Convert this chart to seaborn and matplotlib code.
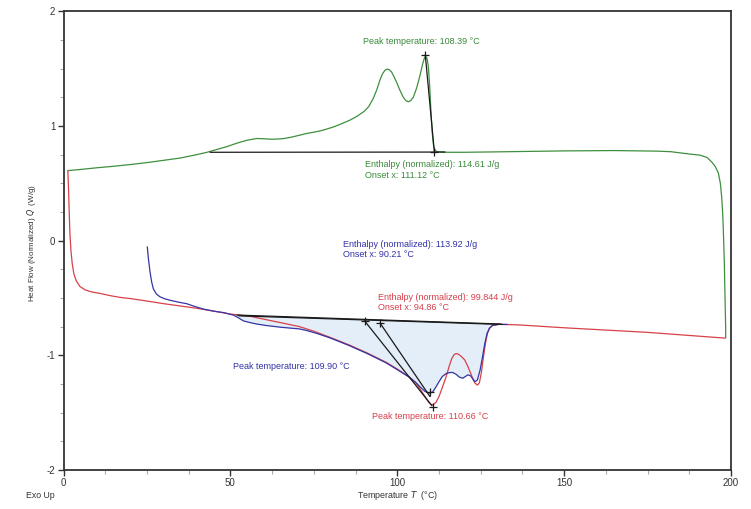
import numpy as np
import pandas as pd
import matplotlib
matplotlib.use("Agg")
import matplotlib.pyplot as plt
import seaborn as sns
from matplotlib.ticker import MultipleLocator

# ---------------- data ----------------
green_T = [1.3, 5, 10, 15, 20, 25, 30, 35, 40, 43, 46, 49, 52, 55, 57.9, 60, 62, 64, 66,
           68, 70.9, 73, 75.9, 78, 80.8, 83, 85.8, 88, 90, 91.5, 92.8, 93.8, 94.8, 95.6,
           96.3, 96.9, 97.6, 98.3, 99.0, 99.8, 100.8, 101.8, 102.6, 103.3, 104.0, 104.8,
           105.8, 106.8, 107.6, 108.1, 108.5, 108.9, 109.3, 109.7, 110.1, 110.5, 110.9,
           111.4, 112, 115, 120, 130.8, 140, 150, 165, 178, 182, 184.7, 187.5, 190.7,
           192.8, 194.2, 195.3, 196.2, 196.8, 197.2, 197.5, 197.7, 198.0, 198.2, 198.4, 198.4]
green_Q = [0.61, 0.62, 0.635, 0.648, 0.663, 0.68, 0.70, 0.72, 0.75, 0.77, 0.795, 0.82,
           0.85, 0.875, 0.89, 0.888, 0.884, 0.885, 0.89, 0.90, 0.92, 0.935, 0.95, 0.965,
           0.99, 1.015, 1.05, 1.085, 1.125, 1.17, 1.24, 1.31, 1.40, 1.455, 1.485, 1.495,
           1.49, 1.47, 1.43, 1.38, 1.31, 1.25, 1.22, 1.21, 1.22, 1.25, 1.33, 1.44, 1.54,
           1.59, 1.605, 1.59, 1.52, 1.35, 1.12, 0.93, 0.82, 0.785, 0.775, 0.77, 0.77,
           0.774, 0.778, 0.782, 0.785, 0.78, 0.775, 0.765, 0.755, 0.745, 0.725, 0.686,
           0.645, 0.59, 0.50, 0.38, 0.24, 0.09, -0.20, -0.49, -0.77, -0.85]

red_T = [1.3, 1.5, 1.7, 1.9, 2.2, 2.6, 3.1, 3.8, 4.9, 6.5, 8.5, 10.9, 14, 16.9, 20, 25,
         30, 35, 39.9, 45, 50, 55.9, 60, 65, 70.7, 75, 80, 85.6, 91, 96.6, 100, 103.6,
         105.5, 107, 108.3, 109.4, 110.2, 110.8, 111.6, 112.5, 113.5, 114.6, 115.5, 116.3,
         117.0, 117.6, 118.3, 119.2, 120.2, 121.2, 122.3, 123.2, 124, 124.6, 125.2, 125.8,
         126.4, 127, 127.6, 128.5, 130.4, 136.5, 150, 175, 198.2]
red_Q = [0.61, 0.45, 0.25, 0.07, -0.08, -0.20, -0.29, -0.35, -0.40, -0.43, -0.448, -0.46,
         -0.48, -0.495, -0.505, -0.527, -0.55, -0.57, -0.59, -0.615, -0.64, -0.66, -0.685,
         -0.715, -0.75, -0.79, -0.845, -0.91, -0.98, -1.06, -1.12, -1.19, -1.24, -1.30,
         -1.36, -1.41, -1.43, -1.43, -1.41, -1.36, -1.28, -1.19, -1.10, -1.03, -0.995,
         -0.985, -0.99, -1.01, -1.04, -1.10, -1.18, -1.24, -1.26, -1.24, -1.15, -1.02,
         -0.90, -0.81, -0.765, -0.74, -0.73, -0.735, -0.76, -0.80, -0.85]

blue_T = [25.1, 25.4, 25.9, 26.4, 26.9, 27.8, 28.9, 30.3, 31.9, 34.5, 36.9, 38.9, 41.9,
          45, 48, 50.9, 52.5, 53.9, 55.9, 58, 60.7, 65, 70.7, 73, 76, 80, 85.6, 91, 96.6,
          100, 103.6, 105.5, 107, 108.3, 109.6, 110.6, 111.5, 112.5, 113.5, 114.6, 115.7,
          116.6, 117.6, 118.6, 119.6, 120.4, 121.2, 122, 122.7, 123.3, 124, 124.8, 125.5,
          126.2, 126.9, 127.6, 128.5, 130.4, 133]
blue_Q = [-0.054, -0.15, -0.27, -0.36, -0.42, -0.465, -0.49, -0.507, -0.52, -0.537, -0.55,
          -0.57, -0.597, -0.615, -0.628, -0.65, -0.675, -0.70, -0.715, -0.728, -0.74,
          -0.755, -0.77, -0.785, -0.81, -0.85, -0.915, -0.985, -1.065, -1.125, -1.19,
          -1.235, -1.28, -1.315, -1.33, -1.32, -1.28, -1.23, -1.185, -1.16, -1.15, -1.15,
          -1.165, -1.19, -1.20, -1.185, -1.17, -1.18, -1.21, -1.23, -1.215, -1.13, -1.02,
          -0.90, -0.81, -0.765, -0.74, -0.73, -0.731]

# integration baselines and tangents
green_base_T = [43.9, 114.3]
green_base_Q = [0.77, 0.772]
green_tan_T = [108.39, 111.12]
green_tan_Q = [1.62, 0.77]
blue_base_T = [51.9, 130.8]
blue_base_Q = [-0.649, -0.727]
red_base_T = [52.5, 131.5]
red_base_Q = [-0.656, -0.731]
blue_tan_T = [90.21, 110.4]
blue_tan_Q = [-0.70, -1.44]
red_tan_T = [94.86, 109.8]
red_tan_Q = [-0.72, -1.36]

# marker points (onset / peak)
mark_T = [108.39, 111.12, 90.21, 94.86, 109.90, 110.66]
mark_Q = [1.62, 0.77, -0.70, -0.72, -1.32, -1.45]

# annotations
ann_x = [89.7, 90.2, 90.2, 83.8, 83.8, 94.1, 94.1, 50.9, 92.3]
ann_y = [1.738, 0.666, 0.57, -0.03, -0.12, -0.495, -0.58, -1.10, -1.53]
ann_txt = ["Peak temperature: 108.39 °C",
           "Enthalpy (normalized): 114.61 J/g", "Onset x: 111.12 °C",
           "Enthalpy (normalized): 113.92 J/g", "Onset x: 90.21 °C",
           "Enthalpy (normalized): 99.844 J/g", "Onset x: 94.86 °C",
           "Peak temperature: 109.90 °C", "Peak temperature: 110.66 °C"]
ann_col = ["g", "g", "g", "b", "b", "r", "r", "b", "r"]

x_ticks = [0, 50, 100, 150, 200]
y_ticks = [-2, -1, 0, 1, 2]

# ---------------- styling ----------------
sns.set_theme(style="white")
plt.rcParams["font.family"] = ["Liberation Sans", "DejaVu Sans"]
plt.rcParams["axes.unicode_minus"] = False

GREEN = "#3f8f3f"
RED = "#d8414a"
BLUE = "#3535a5"
TXT = {"g": "#3a8a3a", "r": "#d5404a", "b": "#3232a8"}

fig = plt.figure(figsize=(7.51, 5.09), dpi=100)
ax = fig.add_axes([0.0846, 0.0766, 0.9734 - 0.0846, 0.978 - 0.0766])

# fill between blue baseline and blue curve
bt = np.array(blue_T)
bq = np.array(blue_Q)
sel = (bt >= blue_base_T[0]) & (bt <= blue_base_T[1])
fx = np.concatenate([[blue_base_T[0]], bt[sel], [blue_base_T[1]]])
fy = np.concatenate([[blue_base_Q[0]], bq[sel], [blue_base_Q[1]]])
base = np.interp(fx, blue_base_T, blue_base_Q)
ax.fill_between(fx, base, fy, color="#e3eef9", lw=0, zorder=1)

lw = 0.9
df_g = pd.DataFrame({"T": green_T, "Q": green_Q})
df_r = pd.DataFrame({"T": red_T, "Q": red_Q})
df_b = pd.DataFrame({"T": blue_T, "Q": blue_Q})
sns.lineplot(data=df_g, x="T", y="Q", sort=False, estimator=None, color=GREEN, lw=lw, ax=ax, zorder=3)
sns.lineplot(data=df_r, x="T", y="Q", sort=False, estimator=None, color=RED, lw=lw, ax=ax, zorder=3)
sns.lineplot(data=df_b, x="T", y="Q", sort=False, estimator=None, color=BLUE, lw=lw, ax=ax, zorder=4)

for xs, ys in [(green_base_T, green_base_Q), (green_tan_T, green_tan_Q),
               (blue_base_T, blue_base_Q), (red_base_T, red_base_Q),
               (blue_tan_T, blue_tan_Q), (red_tan_T, red_tan_Q)]:
    ax.plot(xs, ys, color="#1a1a1a", lw=0.9, zorder=5)

ax.scatter(mark_T, mark_Q, marker="+", s=40, color="#1a1a1a", lw=0.9, zorder=6)

for x, y, t, c in zip(ann_x, ann_y, ann_txt, ann_col):
    ax.text(x, y, t, color=TXT[c], fontsize=6.5, ha="left", va="center", zorder=7)

ax.set_xlim(0, 200)
ax.set_ylim(-2, 2)
ax.set_xticks(x_ticks)
ax.set_yticks(y_ticks)
ax.set_xticklabels([str(v) for v in x_ticks])
ax.set_yticklabels([str(v) for v in y_ticks])
ax.xaxis.set_minor_locator(MultipleLocator(12.5))
ax.yaxis.set_minor_locator(MultipleLocator(0.25))
ax.tick_params(axis="both", which="major", direction="out", length=4, width=1,
               color="#333333", labelsize=7, labelcolor="#333333", pad=2,
               bottom=True, left=True)
ax.tick_params(axis="both", which="minor", direction="out", length=3, width=0.8,
               color="#aaaaaa", bottom=True, left=True)
for s in ax.spines.values():
    s.set_color("#333333")
    s.set_linewidth(1.3)
    s.set_visible(True)

ax.set_xlabel("")
ax.set_ylabel("")
fig.text(32 / 751, 0.5234, r"Heat Flow (Normalized) $\it{Q}$  (W/g)", rotation=90,
         ha="center", va="center", fontsize=5.8, color="#333333")
fig.text(397 / 751, 1 - 496 / 509, r"Temperature $\it{T}$  (°C)", ha="center", va="center",
         fontsize=6.4, color="#333333")
fig.text(26 / 751, 1 - 496 / 509, "Exo Up", ha="left", va="center", fontsize=6.3,
         color="#333333")

fig.savefig("out.png", dpi=100)
